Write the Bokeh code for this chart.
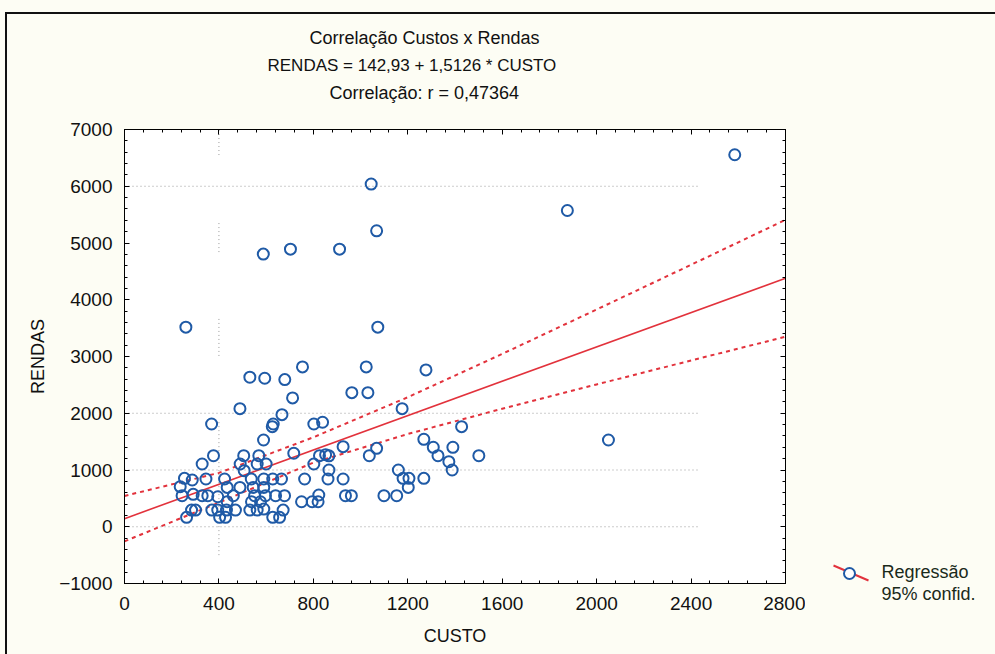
import numpy as np
from bokeh.plotting import figure
from bokeh.layouts import row
from bokeh.core.properties import value
from bokeh.models import (LinearAxis, SingleIntervalTicker, ColumnDataSource, Range1d,
                          Title, CustomJSTickFormatter)
from bokeh.embed import file_html
from bokeh.resources import INLINE

# ---------------- data ----------------
custo = [2585, 1876, 1045, 1068, 588, 703, 911, 260, 1073, 531, 594, 679, 754, 1024, 1277,
         963, 1031, 712, 489, 1176, 667, 2050,
         369, 630, 626, 589, 802, 839, 377, 329, 490, 505, 507, 569, 562, 600, 717, 802,
         826, 852, 866, 926, 1037, 1068, 1160, 1268, 1308, 1328, 1391, 1428, 1501, 1374,
         1388, 1180, 1205, 1202, 1268, 866,
         254, 287, 345, 236, 244, 291, 329, 353, 263, 284, 301, 370, 395, 395, 403, 424,
         428, 435, 435, 432, 461, 470, 489, 537, 545, 551, 538, 531, 562, 590, 590, 597,
         576, 590, 628, 665, 640, 678, 672, 628, 657, 763, 750, 795, 820, 823, 862, 926,
         936, 961, 1099, 1153]
rendas = [6555, 5573, 6039, 5215, 4804, 4892, 4892, 3517, 3517, 2635, 2617, 2593, 2817, 2817, 2764,
          2363, 2363, 2270, 2081, 2081, 1975, 1529,
          1811, 1811, 1764, 1529, 1811, 1841, 1252, 1106, 1106, 1252, 988, 1252, 1106, 1106, 1295, 1106,
          1252, 1270, 1250, 1411, 1252, 1382, 1000, 1541, 1400, 1252, 1400, 1764, 1252, 1146,
          1000, 853, 853, 693, 853, 1000,
          853, 824, 841, 706, 547, 571, 547, 547, 166, 294, 294, 294, 529, 294, 166, 841,
          166, 693, 441, 294, 547, 294, 693, 841, 693, 547, 441, 294, 294, 841, 693, 547,
          441, 312, 841, 841, 547, 547, 294, 166, 166, 841, 441, 441, 441, 559, 841, 841,
          547, 547, 547, 547]

reg_x = [0, 2800]
reg_y = [142.93, 4378.21]          # RENDAS = 142,93 + 1,5126 * CUSTO
ci_x = [0, 400, 800, 1200, 1600, 2000, 2400, 2800]
ci_upper = [543, 949, 1576, 2282, 3046, 3828, 4616, 5408]
ci_lower = [-257, 427, 1130, 1634, 2080, 2508, 2930, 3348]

x_ticks_interval = 400
y_ticks_interval = 1000

titles = ["Correlação Custos x Rendas",
          "RENDAS = 142,93 + 1,5126 * CUSTO",
          "Correlação: r = 0,47364"]
legend_labels = ["Regressão", "95% confid."]

FONT = "Liberation Sans"
RED = "#e2323c"
BLUE = "#1f5aa6"
BG = "#fdfdf4"

# ---------------- main figure ----------------
FL, FB, FT = 124, 583, 129   # frame left / bottom / top in canvas pixels
MAIN_W = 805                 # main figure width; legend strip fills the rest
p = figure(width=MAIN_W, height=654, output_backend="svg", toolbar_location=None, title=None,
           x_range=Range1d(0, 2800), y_range=Range1d(-1000, 7000),
           min_border_left=FL, min_border_right=MAIN_W - 785, min_border_top=FT,
           min_border_bottom=654 - FB, x_axis_label="CUSTO", y_axis_label="RENDAS")
p.background_fill_color = "white"
p.border_fill_alpha = 0
p.styles = {"background-color": BG,
            "box-shadow": f"inset 5px 12px 0 0 {BG}, inset 7px 14px 0 0 #111111"}
p.outline_line_color = "black"
p.outline_line_width = 1
p.xgrid.visible = False
p.ygrid.visible = False

for ax, tk in ((p.xaxis[0], SingleIntervalTicker(interval=x_ticks_interval, num_minor_ticks=5)),
               (p.yaxis[0], SingleIntervalTicker(interval=y_ticks_interval, num_minor_ticks=5))):
    ax.ticker = tk
    ax.major_tick_in = 5
    ax.major_tick_out = 0
    ax.minor_tick_in = 3
    ax.minor_tick_out = 0
    ax.axis_line_color = "black"
    ax.major_label_text_font = FONT
    ax.major_label_text_font_size = "19px"
    ax.major_label_text_color = "#111111"
    ax.axis_label_text_font = FONT
    ax.axis_label_text_font_size = "18px"
    ax.axis_label_text_font_style = "normal"
    ax.axis_label_text_color = "#111111"
p.xaxis[0].major_label_standoff = 13
p.xaxis[0].axis_label_standoff = 13
p.yaxis[0].major_label_standoff = 12
p.yaxis[0].axis_label_standoff = 8

# top and right axes with ticks only
blank = CustomJSTickFormatter(code="return ''")
for loc, interval in (("above", x_ticks_interval), ("right", y_ticks_interval)):
    ax = LinearAxis(ticker=SingleIntervalTicker(interval=interval, num_minor_ticks=5),
                    major_tick_in=5, major_tick_out=0, minor_tick_in=3, minor_tick_out=0,
                    formatter=blank, major_label_standoff=0, axis_line_color="black")
    p.add_layout(ax, loc)
# invisible spacer between the frame and the titles
spacer = LinearAxis(ticker=SingleIntervalTicker(interval=x_ticks_interval, num_minor_ticks=0),
                    major_tick_in=0, major_tick_out=24, minor_tick_in=0, minor_tick_out=0,
                    major_tick_line_alpha=0, minor_tick_line_alpha=0, axis_line_alpha=0,
                    formatter=blank, major_label_standoff=0)
p.add_layout(spacer, "above")

# partial dotted grid lines (as in the original)
gy = [0, 1000, 2000, 6000]
p.segment(x0=[0] * len(gy), y0=gy, x1=[2432] * len(gy), y1=gy,
          line_color="#9a9a9a", line_dash="1 3", line_width=1)
vx0 = [400, 400, 400, 400]
vy0 = [6550, 4840, 3010, -500]
vy1 = [7000, 5400, 3680, 1880]
p.segment(x0=vx0, y0=vy0, x1=vx0, y1=vy1, line_color="#9a9a9a", line_dash="1 3", line_width=1)

# regression and confidence band
p.line(reg_x, reg_y, line_color=RED, line_width=1.6)
p.line(ci_x, ci_upper, line_color=RED, line_width=2, line_dash="4 4")
p.line(ci_x, ci_lower, line_color=RED, line_width=2, line_dash="4 4")

# points
src = ColumnDataSource(dict(x=custo, y=rendas))
p.scatter("x", "y", source=src, marker="circle", size=11, fill_alpha=0,
          line_color=BLUE, line_width=2)

# titles (first added = closest to the frame)
title_left = [185, 143, 205]
title_size = ["18px", "17px", "18px"]
for i in (2, 1, 0):
    kw = dict(text=titles[i], align="left", offset=title_left[i], text_font=FONT,
              text_font_size=title_size[i], text_font_style="normal", text_color="#111111")
    try:
        t = Title(standoff=6, **kw)
    except AttributeError:
        t = Title(**kw)
    p.add_layout(t, "above")

# ---------------- legend strip (right part of the picture) ----------------
# its frame is aligned with the main frame (rows FT..FB), so y uses canvas pixels
LEG_W = 995 - MAIN_W
q = figure(width=LEG_W, height=654, output_backend="svg", toolbar_location=None, title=None,
           x_range=Range1d(MAIN_W, 995), y_range=Range1d(FB, FT),
           x_axis_type=None, y_axis_type=None, min_border=0)
q.min_border_left = q.min_border_right = 0
q.min_border_top = FT
q.min_border_bottom = 654 - FB
q.outline_line_color = None
q.background_fill_color = BG
q.border_fill_alpha = 0
q.styles = {"background-color": BG,
            "box-shadow": f"inset 0 12px 0 0 {BG}, inset 0 14px 0 0 #111111"}
q.grid.visible = False
q.line([833, 868], [565, 580], line_color=RED, line_width=2)
q.scatter([849], [573], marker="circle", size=11, fill_color="white", line_color=BLUE,
          line_width=2)
q.text(x=[881], y=[571], text=legend_labels[:1], text_font=value(FONT),
       text_font_size="18px", text_baseline="middle", text_align="left", text_color="#1a2a1a")
kw2 = dict(text=legend_labels[1], align="left", offset=881 - MAIN_W, text_font=FONT,
           text_font_size="18px", text_font_style="normal", text_color="#1a2a1a",
           vertical_align="top")
try:
    t2 = Title(standoff=0, **kw2)
except AttributeError:
    t2 = Title(**kw2)
q.add_layout(t2, "below")

layout = row(p, q, spacing=0)
open("out.html", "w").write(file_html(layout, INLINE))
